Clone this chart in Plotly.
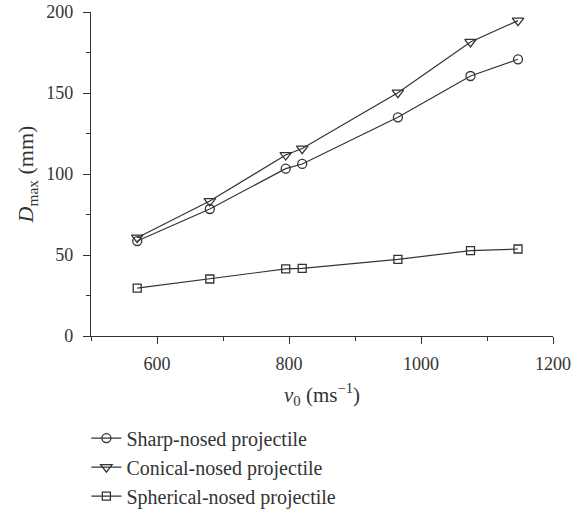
import plotly.graph_objects as go

v0 = [570, 680, 795, 820, 965, 1075, 1147]
sharp = [58.6, 78.4, 103.3, 106.2, 135.0, 160.5, 170.8]
conical = [60.7, 83.3, 111.7, 115.7, 150.2, 181.5, 194.7]
spherical = [29.6, 35.2, 41.4, 41.8, 47.3, 52.7, 53.7]
names = ["Sharp-nosed projectile", "Conical-nosed projectile", "Spherical-nosed projectile"]

FONT = "Liberation Serif, Times New Roman, serif"
INK = "#333333"

fig = go.Figure()
series = [
    (sharp, "circle-open", 9),
    (conical, "triangle-down-open", 10),
    (spherical, "square-open", 8),
]
for i, (ys, sym, sz) in enumerate(series):
    fig.add_trace(go.Scatter(
        x=v0, y=ys, name=names[i], mode="lines+markers",
        line=dict(color=INK, width=1.2),
        marker=dict(symbol=sym, size=sz, color=INK, line=dict(width=1.3, color=INK)),
    ))

axis_common = dict(
    showline=True, linecolor=INK, linewidth=1.3, showgrid=False, zeroline=False,
    ticks="outside", ticklen=7, tickwidth=1.2, tickcolor=INK,
    tickfont=dict(family=FONT, size=18, color=INK),
    mirror=False,
)
fig.update_xaxes(
    range=[500, 1200], tick0=0, dtick=200,
    minor=dict(ticks="outside", ticklen=4, tickwidth=1.2, tickcolor=INK, dtick=100, tick0=0),
    title=dict(text="<i>v</i><sub>0</sub> (ms<sup>−1</sup>)", font=dict(family=FONT, size=21, color=INK), standoff=14),
    ticklabelstandoff=4,
    **axis_common,
)
fig.update_yaxes(
    range=[0, 200], tick0=0, dtick=50,
    minor=dict(ticks="outside", ticklen=4, tickwidth=1.2, tickcolor=INK, dtick=25, tick0=0),
    title=dict(text="<i>D</i><sub>max</sub> (mm)", font=dict(family=FONT, size=22, color=INK), standoff=6),
    ticklabelstandoff=6,
    **axis_common,
)
fig.update_layout(
    width=575, height=509,
    margin=dict(l=91, r=22, t=12, b=173, autoexpand=False),
    paper_bgcolor="white", plot_bgcolor="white",
    showlegend=True,
    legend=dict(
        x=-0.01, xanchor="left", y=-0.255, yanchor="top",
        font=dict(family=FONT, size=20, color=INK),
        bgcolor="rgba(0,0,0,0)", borderwidth=0,
    ),
)
fig.update_xaxes(automargin=False)
fig.update_yaxes(automargin=False)
fig.write_html("out.html")
